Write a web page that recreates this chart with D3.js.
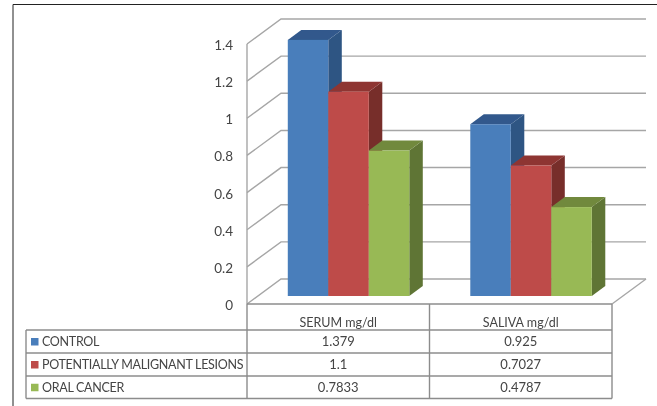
<!DOCTYPE html>
<html>
<head>
<meta charset="utf-8">
<script src="https://d3js.org/d3.v7.min.js"></script>
<style>
    html, body { margin: 0; padding: 0; background: #fff; }
    svg { display: block; }
    text { font-family: Lato, "Open Sans", sans-serif; fill: #454545; }
</style>
</head>
<body>
<svg id="chart" width="657" height="406"></svg>
<script>
// Chart data
const categories = ['SERUM mg/dl', 'SALIVA mg/dl'];
const seriesNames = ['CONTROL', 'POTENTIALLY MALIGNANT LESIONS', 'ORAL CANCER'];
const control = [1.379, 0.925];
const malignant = [1.1, 0.7027];
const oralCancer = [0.7833, 0.4787];
const tableLabels = [['1.379', '0.925'], ['1.1', '0.7027'], ['0.7833', '0.4787']];
const tickValues = [0, 0.2, 0.4, 0.6, 0.8, 1, 1.2, 1.4];

const seriesValues = [control, malignant, oralCancer];
const frontColors = ['#4a7ebb', '#be4b48', '#98b954'];
const topColors = ['#30588c', '#8e3532', '#71893e'];
const sideColors = ['#2f5583', '#772d2c', '#5f7534'];

const svg = d3.select('#chart');

// Soften everything a little, the reference is a scanned image
const defs = svg.append('defs');
defs.append('filter').attr('id', 'soft')
    .append('feGaussianBlur').attr('stdDeviation', 0.35);
const root = svg.append('g').attr('filter', 'url(#soft)');

// Scales for the front plane of the box
const y = d3.scaleLinear().domain([0, 1.4]).range([304, 44]);
const x = d3.scaleBand().domain(categories).range([247, 612]);
const depthX = 34;
const depthY = -25;

// Outer frame
root.append('path')
    .attr('d', 'M13,406 V4.5 H657')
    .attr('fill', 'none')
    .attr('stroke', '#222')
    .attr('stroke-width', 1);

// Grid lines: back wall plus left wall
const gridColor = '#a6a6a6';
tickValues.forEach(t => {
    root.append('path')
        .attr('d', `M${x.range()[0]},${y(t)} l${depthX},${depthY} H${x.range()[1] + depthX}`)
        .attr('fill', 'none')
        .attr('stroke', gridColor)
        .attr('stroke-width', 1.4);
});
// Left edge of the box and floor
root.append('line')
    .attr('x1', 247).attr('x2', 247)
    .attr('y1', y(1.4)).attr('y2', y(0))
    .attr('stroke', gridColor).attr('stroke-width', 1.4);
root.append('path')
    .attr('d', `M612,${y(0)} l${depthX},${depthY}`)
    .attr('stroke', gridColor).attr('stroke-width', 1.4);

// Axis tick labels
root.selectAll('.tick-label')
    .data(tickValues)
    .enter()
    .append('text')
    .attr('class', 'tick-label')
    .attr('x', 233)
    .attr('y', d => y(d) + 6)
    .attr('text-anchor', 'end')
    .attr('font-size', 13.5)
    .text(d => d);

// Bars, drawn from the back forward so the sides overlap correctly
const barWidth = 40.5;
const barDepthX = 13.5;
const barDepthY = -10;
const barBase = 296;
const barScale = d3.scaleLinear().domain([0, 1.4]).range([barBase, barBase - 260]);
const groupStart = x.bandwidth() * 0.2235;

categories.forEach(cat => {
    seriesValues.forEach((values, s) => {
        const v = values[categories.indexOf(cat)];
        const left = x(cat) + groupStart + s * barWidth;
        const right = left + barWidth;
        const top = barScale(v);
        const g = root.append('g');
        g.append('path')
            .attr('d', `M${right},${top} l${barDepthX},${barDepthY} V${barBase + barDepthY} L${right},${barBase} Z`)
            .attr('fill', sideColors[s]);
        g.append('path')
            .attr('d', `M${left},${top} l${barDepthX},${barDepthY} H${right + barDepthX} L${right},${top} Z`)
            .attr('fill', topColors[s]);
        g.append('rect')
            .attr('x', left).attr('y', top)
            .attr('width', barWidth).attr('height', barBase - top)
            .attr('fill', frontColors[s]);
    });
});

// Data table under the chart
const tableColor = '#8c8c8c';
const rowLines = [330, 353, 376, 398.5];
const tableLeft = 26;
const colLines = [247, 429.5, 612];

// horizontal rules
rowLines.forEach(r => {
    root.append('line')
        .attr('x1', tableLeft).attr('x2', 612)
        .attr('y1', r).attr('y2', r)
        .attr('stroke', tableColor).attr('stroke-width', 1.4);
});
root.append('line')
    .attr('x1', 247).attr('x2', 612)
    .attr('y1', y(0)).attr('y2', y(0))
    .attr('stroke', tableColor).attr('stroke-width', 1.4);
// vertical rules
colLines.forEach(c => {
    root.append('line')
        .attr('x1', c).attr('x2', c)
        .attr('y1', y(0)).attr('y2', 398.5)
        .attr('stroke', tableColor).attr('stroke-width', 1.4);
});
root.append('line')
    .attr('x1', tableLeft).attr('x2', tableLeft)
    .attr('y1', 330).attr('y2', 398.5)
    .attr('stroke', tableColor).attr('stroke-width', 1.4);

// Category headers
root.selectAll('.cat-label')
    .data(categories)
    .enter()
    .append('text')
    .attr('class', 'cat-label')
    .attr('x', d => x(d) + x.bandwidth() / 2)
    .attr('y', 326.5)
    .attr('text-anchor', 'middle')
    .attr('font-size', 12.5)
    .text(d => d);

// Legend keys, names and values
seriesNames.forEach((name, s) => {
    const mid = (rowLines[s] + rowLines[s + 1]) / 2;
    root.append('rect')
        .attr('x', 31).attr('y', mid - 3.5)
        .attr('width', 7.5).attr('height', 7.5)
        .attr('fill', frontColors[s]);
    root.append('text')
        .attr('x', 42).attr('y', mid + 4.5)
        .attr('font-size', 12.5)
        .attr('letter-spacing', -0.3)
        .text(name);
    categories.forEach((cat, c) => {
        root.append('text')
            .attr('x', x(cat) + x.bandwidth() / 2)
            .attr('y', mid + 4.5)
            .attr('text-anchor', 'middle')
            .attr('font-size', 13)
            .text(tableLabels[s][c]);
    });
});
</script>
</body>
</html>
